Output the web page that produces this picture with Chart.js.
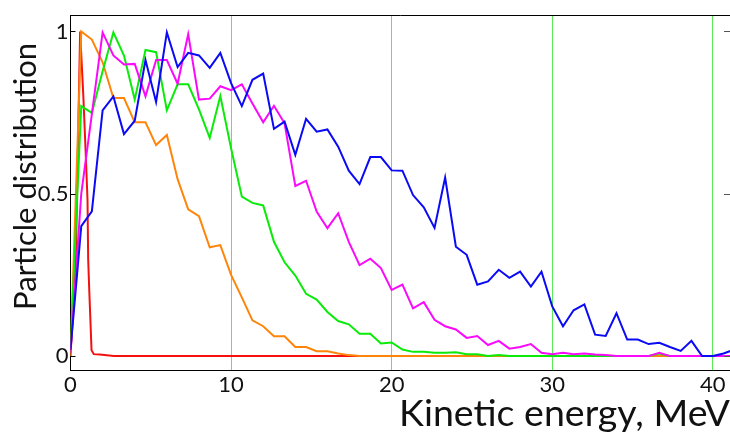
<!DOCTYPE html>
<html>
<head>
<meta charset="utf-8">
<script src="https://cdn.jsdelivr.net/npm/chart.js@4"></script>
<style>
  html, body { margin: 0; padding: 0; background: #fff; }
  #wrap { width: 730px; height: 434px; }
</style>
</head>
<body>
<div id="wrap"><canvas id="spectrum" width="730" height="434"></canvas></div>
<script>
// energy bins, MeV
const energy = [0, 0.67, 1.33, 2, 2.67, 3.33, 4, 4.67, 5.33, 6, 6.67, 7.33, 8, 8.67, 9.33,
    10, 10.67, 11.33, 12, 12.67, 13.33, 14, 14.67, 15.33, 16, 16.67, 17.33, 18, 18.67, 19.33,
    20, 20.67, 21.33, 22, 22.67, 23.33, 24, 24.67, 25.33, 26, 26.67, 27.33, 28, 28.67, 29.33,
    30, 30.67, 31.33, 32, 32.67, 33.33, 34, 34.67, 35.33, 36, 36.67, 37.33, 38, 38.67, 39.33,
    40, 40.67, 41.33];

const blueVals = [0.02, 0.40, 0.446, 0.757, 0.80, 0.684, 0.725, 0.912, 0.783, 0.997, 0.89, 0.934, 0.926, 0.888, 0.934,
    0.841, 0.77, 0.851, 0.87, 0.70, 0.722, 0.62, 0.731, 0.691, 0.698, 0.645, 0.571, 0.53, 0.613, 0.613,
    0.572, 0.571, 0.496, 0.458, 0.395, 0.55, 0.337, 0.312, 0.22, 0.23, 0.266, 0.241, 0.26, 0.214, 0.26,
    0.153, 0.092, 0.141, 0.159, 0.066, 0.062, 0.132, 0.051, 0.051, 0.037, 0.041, 0.028, 0.016, 0.047, 0,
    0, 0.008, 0.02];

const magentaVals = [0.01, 0.5, 0.745, 0.997, 0.926, 0.898, 0.90, 0.80, 0.912, 0.912, 0.839, 0.992, 0.79, 0.793, 0.831,
    0.819, 0.837, 0.778, 0.72, 0.771, 0.717, 0.524, 0.54, 0.445, 0.394, 0.44, 0.352, 0.28, 0.30, 0.271,
    0.204, 0.22, 0.147, 0.166, 0.112, 0.092, 0.082, 0.056, 0.062, 0.034, 0.047, 0.023, 0.028, 0.037, 0.01,
    0.006, 0.01, 0.006, 0.008, 0.005, 0.003, 0, 0, 0, 0, 0.01, 0, 0, 0, 0,
    0, 0, 0];

const greenVals = [0.03, 0.77, 0.749, 0.877, 0.997, 0.926, 0.79, 0.943, 0.936, 0.757, 0.837, 0.837, 0.76, 0.672, 0.801,
    0.64, 0.491, 0.472, 0.464, 0.352, 0.289, 0.248, 0.192, 0.174, 0.136, 0.108, 0.098, 0.069, 0.069, 0.039,
    0.042, 0.02, 0.013, 0.013, 0.01, 0.01, 0.012, 0.006, 0.006, 0, 0.003, 0, 0, 0, 0,
    0, 0, 0, 0, 0, 0, 0, 0, 0, 0, 0.008, 0, 0, 0, 0,
    0, 0, 0];

const orangeVals = [0, 1.0, 0.975, 0.905, 0.795, 0.795, 0.72, 0.72, 0.65, 0.681, 0.545, 0.452, 0.431, 0.335, 0.342,
    0.25, 0.181, 0.11, 0.092, 0.061, 0.061, 0.028, 0.028, 0.015, 0.015, 0.008, 0.003, 0, 0, 0,
    0, 0, 0, 0, 0, 0, 0, 0, 0, 0, 0, 0, 0, 0, 0,
    0, 0, 0, 0, 0, 0, 0, 0, 0, 0, 0, 0, 0, 0, 0,
    0, 0, 0];

// red one is sampled finer
const redEnergy = [0, 0.33, 0.6, 0.8, 0.95, 1.06, 1.1, 1.17, 1.24, 1.31, 1.45, 1.82, 2.7, 41.33];
const redVals = [0, 0.3, 1.0, 0.8, 0.62, 0.48, 0.3, 0.2, 0.11, 0.018, 0.006, 0.005, 0, 0];

const yTicks = [0, 0.5, 1];
const xTicks = [0, 10, 20, 30, 40];
const yTitle = 'Particle distribution';

const FONT = 'Lato, "Open Sans", sans-serif';

function pts(xs, ys) {
    return xs.map((x, i) => ({ x: x, y: ys[i] }));
}

function series(label, xs, ys, color) {
    return {
        label: label,
        data: pts(xs, ys),
        borderColor: color,
        backgroundColor: color,
        borderWidth: 2,
        pointRadius: 0,
        tension: 0,
        fill: false
    };
}

// top border, short inward ticks on both sides, and the y title
// (the title sits a bit above the middle of the axis in the original)
const frameTicks = {
    id: 'frameTicks',
    afterDraw(chart) {
        const { ctx, chartArea: a, scales: { y } } = chart;
        ctx.save();
        ctx.lineWidth = 1;
        ctx.strokeStyle = '#000';
        ctx.beginPath();
        ctx.moveTo(a.left, Math.round(a.top) + 0.5);
        ctx.lineTo(a.right, Math.round(a.top) + 0.5);
        ctx.stroke();
        yTicks.forEach(v => {
            const py = Math.round(y.getPixelForValue(v)) + 0.5;
            ctx.strokeStyle = '#000';
            ctx.beginPath();
            ctx.moveTo(a.left, py);
            ctx.lineTo(a.left + 5, py);
            ctx.stroke();
            ctx.strokeStyle = '#555';
            ctx.beginPath();
            ctx.moveTo(a.right - 6, py);
            ctx.lineTo(a.right, py);
            ctx.stroke();
        });

        ctx.translate(25.5, (a.top + a.bottom) / 2 - 16.5);
        ctx.rotate(-Math.PI / 2);
        ctx.fillStyle = '#111';
        ctx.font = '31px ' + FONT;
        ctx.textAlign = 'center';
        ctx.textBaseline = 'middle';
        ctx.fillText(yTitle, 0, 0);
        ctx.restore();
    }
};

const ctx = document.getElementById('spectrum').getContext('2d');
new Chart(ctx, {
    type: 'line',
    data: {
        datasets: [
            series('blue', energy, blueVals, '#0a0af5'),
            series('magenta', energy, magentaVals, '#fa0afa'),
            series('green', energy, greenVals, '#0aeb0a'),
            series('orange', energy, orangeVals, '#ff850a'),
            series('red', redEnergy, redVals, '#f51010')
        ]
    },
    options: {
        responsive: false,
        animation: false,
        layout: { padding: { top: 13, right: 0, left: 0, bottom: 0 } },
        plugins: {
            legend: { display: false },
            tooltip: { enabled: false }
        },
        scales: {
            x: {
                type: 'linear',
                min: 0,
                max: 41.07,
                afterFit: s => { s.height = 63.3; },
                afterBuildTicks: s => { s.ticks = xTicks.map(v => ({ value: v })); },
                ticks: {
                    includeBounds: false,
                    color: '#111',
                    padding: 1,
                    font: { family: FONT, size: 22 },
                    callback: v => String(v)
                },
                grid: {
                    color: 'rgb(90,235,90)',
                    lineWidth: 1,
                    drawTicks: false
                },
                border: { display: true, color: '#000', width: 1 },
                title: {
                    display: true,
                    text: 'Kinetic energy, MeV',
                    align: 'end',
                    color: '#111',
                    font: { family: FONT, size: 37.5, lineHeight: 1 },
                    padding: { top: 0, bottom: 1 }
                }
            },
            y: {
                type: 'linear',
                min: -0.045,
                max: 1.05,
                afterFit: s => { s.width = 70.5; },
                afterBuildTicks: s => { s.ticks = yTicks.map(v => ({ value: v })); },
                ticks: {
                    includeBounds: false,
                    color: '#111',
                    padding: 2,
                    font: { family: FONT, size: 22 },
                    callback: v => String(v)
                },
                grid: { display: false, drawTicks: false },
                border: { display: true, color: '#000', width: 1 },
                title: { display: false }
            }
        }
    },
    plugins: [frameTicks]
});
</script>
</body>
</html>
